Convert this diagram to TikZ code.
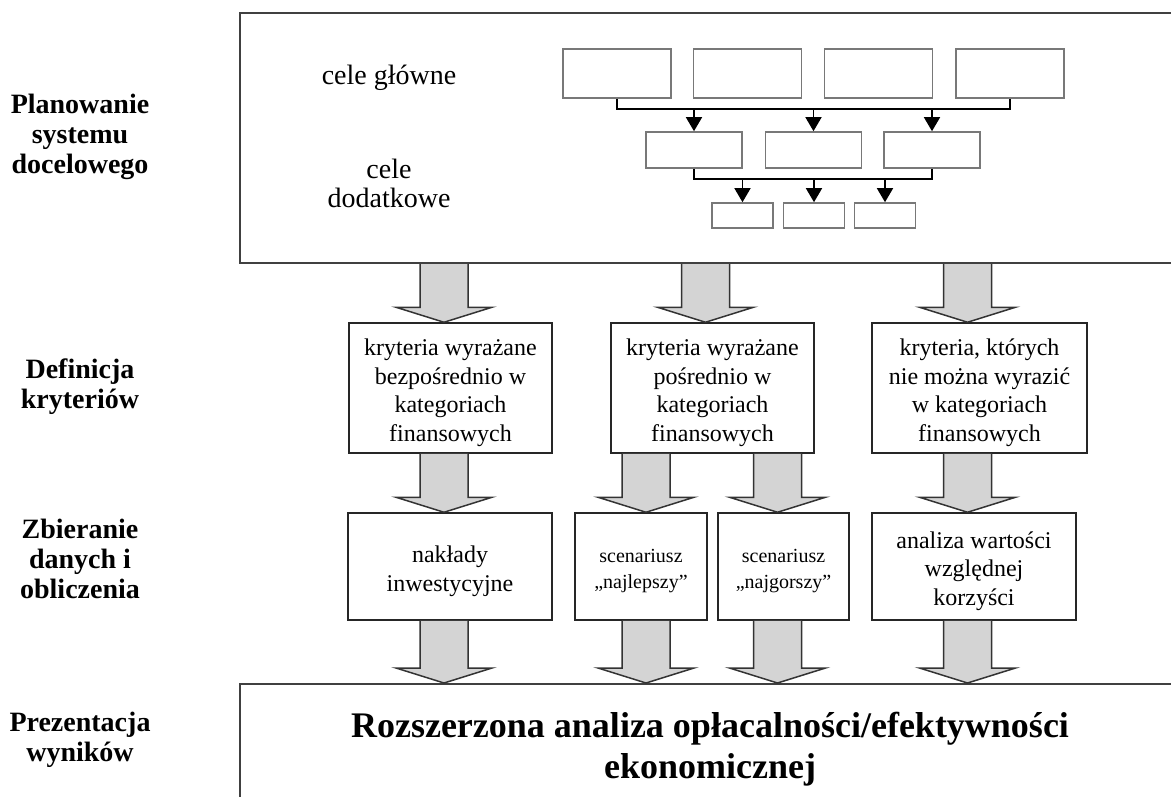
\documentclass[tikz,border=0pt]{standalone}
\usepackage{fontspec}
\setmainfont{Liberation Serif}
\usetikzlibrary{arrows.meta, calc}
\definecolor{arrGray}{RGB}{212, 212, 212}
\definecolor{frameGray}{RGB}{64, 64, 64}
\definecolor{goalGray}{RGB}{120, 120, 120}

\newcommand{\topgap}{\rule{0pt}{1.08em}}
\newcommand{\blockarrow}[3]{%
  \draw[bigarrow] let \p1=(#1.south), \p2=(#2.north) in
    ({#3pt-24pt},\y1) -- ({#3pt-24pt},{\y2+15pt}) -- ({#3pt-48pt},{\y2+15pt})
    -- (#3pt,\y2) -- ({#3pt+48pt},{\y2+15pt}) -- ({#3pt+24pt},{\y2+15pt})
    -- ({#3pt+24pt},\y1);}

\begin{document}
\begin{tikzpicture}[x=1pt, y=-1pt,
      stage/.style={align=center, font=\fontsize{28}{30}\selectfont\bfseries},
      frame/.style={draw=frameGray, line width=2pt, inner sep=0pt},
      goal/.style={draw=goalGray, line width=1.6pt, inner sep=0pt},
      crit/.style={draw=black!85, line width=1.5pt, inner sep=0pt, align=center,
                   font=\fontsize{24}{28.5}\selectfont},
      bigarrow/.style={draw=black!80, line width=1.5pt, fill=arrGray},
      tree/.style={line width=1.5pt}]
    \useasboundingbox (0,0) rectangle (1171,796);
    \clip (0,0) rectangle (1171,796);
    \node[frame, minimum width=940pt, minimum height=250pt] (plan) at (710,138) {};
    \node[frame, minimum width=940pt, minimum height=130pt, align=center,
          font=\fontsize{36}{41}\selectfont\bfseries] (res) at (710,749)
          {Rozszerzona analiza opłacalności/efektywności\\ekonomicznej};
    \node[stage] (st1) at (80,137) {Planowanie\\systemu\\docelowego};
    \node[stage] (st2) at (80,387) {Definicja\\kryteriów};
    \node[stage] (st3) at (80,559) {Zbieranie\\danych i\\obliczenia};
    \node[stage] (st4) at (80,740) {Prezentacja\\wyników};
    \node[font=\fontsize{28}{29}\selectfont] (lmain) at (389,78) {cele główne};
    \node[font=\fontsize{28}{29}\selectfont, align=center] (lextra) at (389,183) {cele\\dodatkowe};
    \node[goal, minimum width=108pt, minimum height=49pt] (g1) at (617,73.5) {};
    \node[goal, minimum width=108pt, minimum height=49pt] (g2) at (747.5,73.5) {};
    \node[goal, minimum width=108pt, minimum height=49pt] (g3) at (878.5,73.5) {};
    \node[goal, minimum width=108pt, minimum height=49pt] (g4) at (1010,73.5) {};
    \node[goal, minimum width=96pt, minimum height=36pt] (s1) at (694,150) {};
    \node[goal, minimum width=96pt, minimum height=36pt] (s2) at (813.5,150) {};
    \node[goal, minimum width=96pt, minimum height=36pt] (s3) at (932,150) {};
    \node[goal, minimum width=61pt, minimum height=25pt] (t1) at (742.5,215.5) {};
    \node[goal, minimum width=61pt, minimum height=25pt] (t2) at (814,215.5) {};
    \node[goal, minimum width=61pt, minimum height=25pt] (t3) at (885,215.5) {};
    \coordinate (bus1) at (0,109);
    \coordinate (bus2) at (0,179);
    \draw[tree] (g1.south) -- (g1.south |- bus1) -- (g4.south |- bus1) -- (g4.south);
    \foreach \n in {s1,s2,s3}
      \draw[tree, -{Triangle[width=16pt,length=14pt]}] (\n.north |- bus1) -- (\n.north);
    \draw[tree] (s1.south) -- (s1.south |- bus2) -- (s3.south |- bus2) -- (s3.south);
    \foreach \n in {t1,t2,t3}
      \draw[tree, -{Triangle[width=16pt,length=14pt]}] (\n.north |- bus2) -- (\n.north);
    \node[crit, minimum width=203pt, minimum height=130pt] (kA) at (450.5,388)
          {\topgap kryteria wyrażane\\bezpośrednio w\\kategoriach\\finansowych};
    \node[crit, minimum width=203pt, minimum height=130pt] (kB) at (712.5,388)
          {\topgap kryteria wyrażane\\pośrednio w\\kategoriach\\finansowych};
    \node[crit, minimum width=215pt, minimum height=130pt] (kC) at (979.5,388)
          {\topgap kryteria, których\\nie można wyrazić\\w kategoriach\\finansowych};
    \node[crit, minimum width=204pt, minimum height=107pt] (dA) at (450,566.5)
          {\topgap nakłady\\inwestycyjne};
    \node[crit, minimum width=132pt, minimum height=107pt,
          font=\fontsize{20}{26}\selectfont] (dB) at (641,566.5) {\topgap scenariusz\\„najlepszy”};
    \node[crit, minimum width=131pt, minimum height=107pt,
          font=\fontsize{20}{26}\selectfont] (dC) at (783.5,566.5) {\topgap scenariusz\\„najgorszy”};
    \node[crit, minimum width=204pt, minimum height=107pt] (dD) at (974,566.5)
          {\topgap analiza wartości\\względnej\\korzyści};
    \blockarrow{plan}{kA}{444}
    \blockarrow{plan}{kB}{705.5}
    \blockarrow{plan}{kC}{967.5}
    \blockarrow{kA}{dA}{444}
    \blockarrow{kB}{dB}{646}
    \blockarrow{kB}{dC}{777.5}
    \blockarrow{kC}{dD}{967.5}
    \blockarrow{dA}{res}{444}
    \blockarrow{dB}{res}{646}
    \blockarrow{dC}{res}{777.5}
    \blockarrow{dD}{res}{967.5}
  \end{tikzpicture}
\end{document}
